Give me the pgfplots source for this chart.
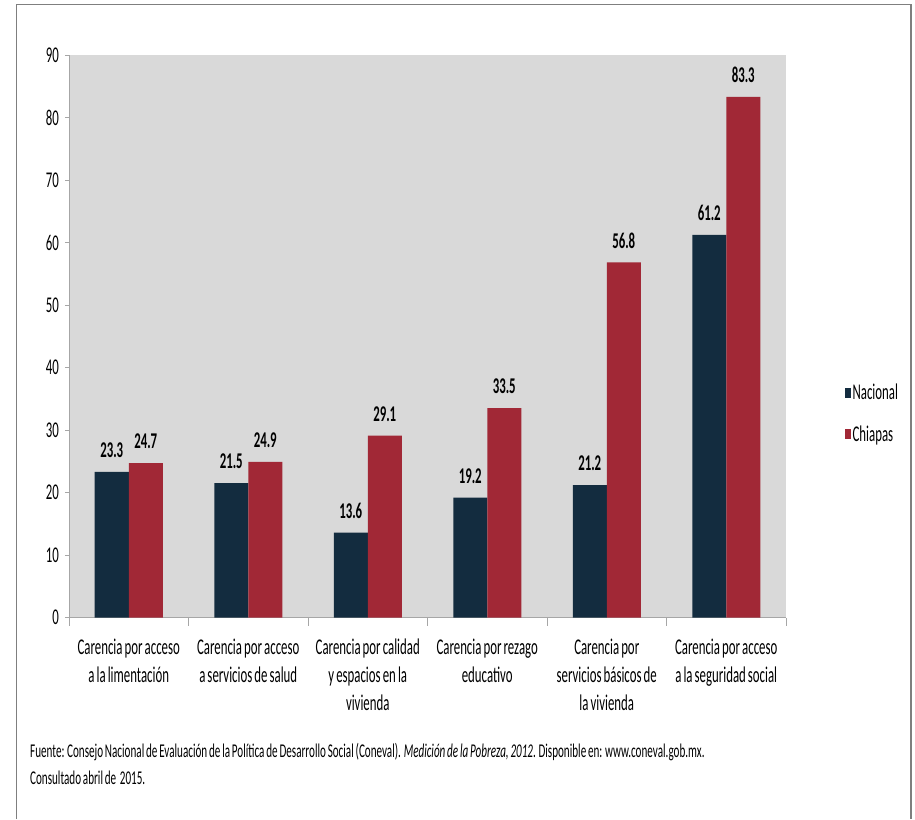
\documentclass[border=0pt]{standalone}
\usepackage{pgfplots}
\pgfplotsset{compat=1.18}
\usepackage{fontspec}
\setmainfont{Carlito}[FakeStretch=0.57, WordSpace=0.72]

\definecolor{nacional}{HTML}{132C3F}
\definecolor{chiapas}{HTML}{A12836}
\definecolor{plotbg}{HTML}{D9D9D9}
\definecolor{axisgray}{HTML}{A6A6A6}
\definecolor{framegray}{HTML}{7F7F7F}

\newcommand{\lbl}{\fontsize{22.5}{28}\selectfont}

\begin{document}
\begin{tikzpicture}[x=1pt,y=1pt]
\path (0,0) rectangle (915,819);
\draw[framegray, line width=1.5pt] (16.5,0) -- (16.5,814.5) -- (911,814.5) -- (911,0);

\begin{axis}[
  at={(69pt,201.5pt)}, anchor=south west,
  width=717pt, height=562.5pt, scale only axis,
  xmin=-0.5, xmax=5.5, ymin=0, ymax=90,
  ybar=0pt, bar width=34pt,
  axis background/.style={fill=plotbg},
  axis x line*=bottom, axis y line*=left,
  axis line style={axisgray, line width=0.8pt, -},
  ytick={0,10,...,90},
  xtick={0,...,5},
  xticklabels={
    {Carencia por acceso\\a la limentación},
    {Carencia por acceso\\a servicios de salud},
    {Carencia por calidad\\y espacios en la\\vivienda},
    {Carencia por rezago\\educativo},
    {Carencia por\\servicios básicos de\\la vivienda},
    {Carencia por acceso\\a la seguridad social}},
  minor xtick={-0.5,0.5,...,5.5},
  tick align=outside,
  major tick length=4pt, minor tick length=8pt,
  major x tick style={draw=none},
  minor x tick style={axisgray, line width=0.8pt},
  y tick style={axisgray, line width=0.8pt},
  tick label style={font=\lbl},
  /pgf/number format/assume math mode=true,
  xticklabel style={align=center, inner sep=0pt, yshift=-17pt},
  yticklabel style={inner sep=0pt, xshift=-6pt},
  nodes near coords,
  every node near coord/.append style={font=\bfseries\lbl, inner sep=0pt, anchor=south, yshift=14pt, text=black},
  legend style={at={(1.078,0.3627)}, anchor=west, draw=none, fill=none,
    font=\lbl, row sep=21pt, nodes={inner sep=1.5pt}},
  legend cell align=left,
  legend image code/.code={\fill[#1] (0pt,-5pt) rectangle (6pt,5pt);},
]
\addplot[fill=nacional, draw=none] coordinates {
  (0,23.3) (1,21.5) (2,13.6) (3,19.2) (4,21.2) (5,61.2)};
\addlegendentry{Nacional}
\addplot[fill=chiapas, draw=none] coordinates {
  (0,24.7) (1,24.9) (2,29.1) (3,33.5) (4,56.8) (5,83.3)};
\addlegendentry{Chiapas}
\end{axis}

\node[anchor=base west, inner sep=0pt, font=\fontsize{19.5}{22}\selectfont] at (30,62)
  {Fuente: Consejo Nacional de Evaluación de la Política de Desarrollo Social (Coneval). \textit{Medición de la Pobreza, 2012}. Disponible en: www.coneval.gob.mx.};
\node[anchor=base west, inner sep=0pt, font=\fontsize{19.5}{22}\selectfont] at (30,35)
  {Consultado abril de\ \ 2015.};
\end{tikzpicture}
\end{document}
